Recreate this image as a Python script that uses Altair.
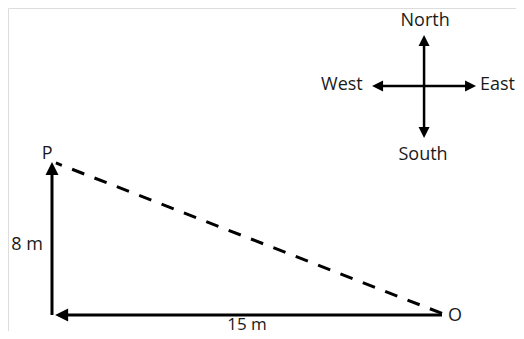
import altair as alt
import pandas as pd

# ---- geometry (metres on the walk; compass drawn in the same frame) ----
# solid segments (start -> end)
solid_x1 = [0.0, 15.0]
solid_y1 = [0.0, 0.0]
solid_x2 = [0.0, 0.42]
solid_y2 = [7.6, 0.0]

# dashed displacement line O -> P
dash_x = [15.0, 0.15]
dash_y = [0.08, 7.95]

# compass arms
comp_x1 = [14.31, 12.55]
comp_y1 = [9.55, 11.97]
comp_x2 = [14.31, 16.08]
comp_y2 = [14.35, 11.97]

# arrow heads (tip positions, direction angle in degrees clockwise from up)
head_x = [0.0, 0.12]
head_y = [8.0, 0.0]
head_angle = [0, 270]

chead_x = [14.31, 14.31, 12.31, 16.31]
chead_y = [14.64, 9.25, 11.97, 11.97]
chead_angle = [0, 180, 270, 90]

# labels (centre-anchored)
label_text = ["P", "8 m", "O", "North", "South", "West", "East"]
label_x = [-0.19, -0.96, 15.5, 14.35, 14.27, 11.15, 17.13]
label_y = [8.42, 3.66, -0.05, 15.37, 8.39, 12.03, 12.03]

# label sitting on the bottom edge (baseline-anchored)
base_text = ["15 m"]
base_x = [7.5]
base_y = [-0.8]

X_DOMAIN = [-1.692, 17.846]
Y_DOMAIN = [-0.837, 16.052]

xs = alt.Scale(domain=X_DOMAIN, nice=False, zero=False)
ys = alt.Scale(domain=Y_DOMAIN, nice=False, zero=False)
noax = None

ARROW = "M0,0 L1,2 L-1,2 Z"

solid_df = pd.DataFrame({"x": solid_x1, "y": solid_y1, "x2": solid_x2, "y2": solid_y2})
comp_df = pd.DataFrame({"x": comp_x1, "y": comp_y1, "x2": comp_x2, "y2": comp_y2})
dash_df = pd.DataFrame({"x": [dash_x[0]], "y": [dash_y[0]], "x2": [dash_x[1]], "y2": [dash_y[1]]})
head_df = pd.DataFrame({"x": head_x, "y": head_y, "a": head_angle})
chead_df = pd.DataFrame({"x": chead_x, "y": chead_y, "a": chead_angle})
label_df = pd.DataFrame({"t": label_text, "x": label_x, "y": label_y})
base_df = pd.DataFrame({"t": base_text, "x": base_x, "y": base_y})


def seg(df, width, dash=None):
    kw = dict(color="black", strokeWidth=width, strokeCap="butt")
    if dash:
        kw["strokeDash"] = dash
    return alt.Chart(df).mark_rule(**kw).encode(
        x=alt.X("x:Q", scale=xs, axis=noax),
        y=alt.Y("y:Q", scale=ys, axis=noax),
        x2="x2:Q",
        y2="y2:Q",
    )


def heads(df, size):
    return alt.Chart(df).mark_point(
        shape=ARROW, filled=True, color="black", opacity=1, size=size, strokeWidth=0
    ).encode(
        x=alt.X("x:Q", scale=xs, axis=noax),
        y=alt.Y("y:Q", scale=ys, axis=noax),
        angle=alt.Angle("a:Q", scale=None),
    )


def texts(df, baseline, size=18):
    return alt.Chart(df).mark_text(
        font="Open Sans", fontSize=size, color="#1a1a1a", align="center", baseline=baseline
    ).encode(
        x=alt.X("x:Q", scale=xs, axis=noax),
        y=alt.Y("y:Q", scale=ys, axis=noax),
        text="t:N",
    )


chart = alt.layer(
    seg(solid_df, 3),
    seg(dash_df, 3, [13, 11]),
    seg(comp_df, 2.5),
    heads(head_df, 169),
    heads(chead_df, 121),
    texts(label_df, "middle"),
    texts(base_df, "alphabetic", 17),
).properties(
    width=508, height=323, padding=0,
    autosize=alt.AutoSizeParams(type="none"),
).configure_view(stroke=None).configure(background="white")

chart.save("out.html", embed_options={"renderer": "svg", "actions": False})
